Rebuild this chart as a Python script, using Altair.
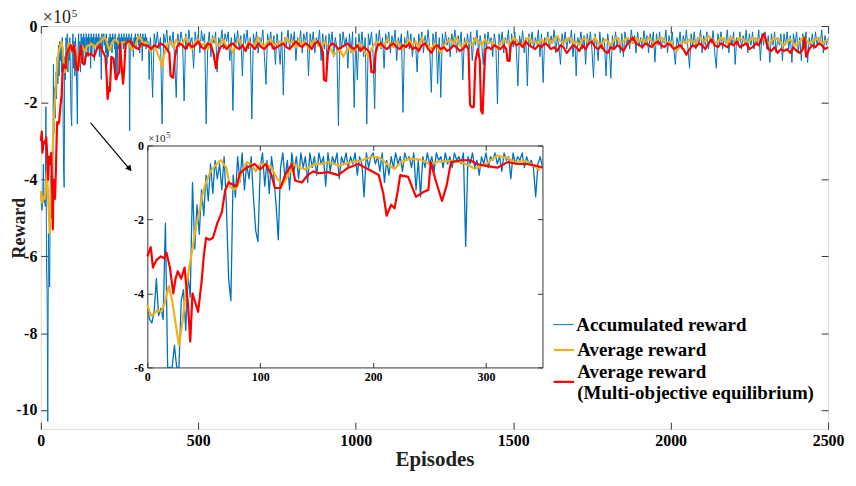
import altair as alt
import pandas as pd

# ---------------- data (values in units of 10^5) ----------------
S_BLUE = "Accumulated reward"
S_ORANGE = "Average reward"
S_RED = "Average reward\n(Multi-objective equilibrium)"
C_BLUE, C_ORANGE, C_RED = "#0072BD", "#EDB120", "#FF0000"

# accumulated reward, episodes 0..350 every 2 episodes
blue_early_ep = list(range(0, 351, 2))
blue_early_val = [
    -4.3, -4.7, -4.8, -4.5, -3.6, -4.6, -4.4, -4.7, -2.1, -6.3,
    -7.0, -10.3, -5.4, -6.2, -6.8, -4.2, -3.9, -5.0, -3.5, -4.1,
    -1.0, -2.8, -1.6, -2.4, -1.2, -1.9, -0.8, -1.5, -0.5, -1.3,
    -0.4, -0.9, -0.5, -1.2, -0.3, -1.6, -3.6, -4.2, -0.8, -1.4,
    -0.3, -1.0, -0.2, -1.2, -0.5, -0.9, -0.3, -1.4, -2.3, -2.6,
    -0.6, -0.2, -1.1, -0.4, -1.3, -0.3, -0.8, -1.6, -2.55, -0.6,
    -0.2, -0.9, -0.4, -1.2, -0.2, -0.7, -0.3, -0.9, -0.2, -0.6,
    -0.3, -1.0, -0.2, -0.6, -0.3, -0.8, -0.2, -0.5, -0.3, -1.1,
    -0.2, -0.7, -0.3, -0.5, -0.2, -0.9, -0.3, -0.5, -0.2, -0.6,
    -0.3, -0.5, -0.2, -0.8, -0.3, -0.5, -1.39, -0.2, -0.6, -0.3,
    -0.2, -0.5, -0.3, -0.7, -0.2, -1.0, -0.4, -0.8, -0.3, -0.6,
    -0.2, -0.5, -0.3, -0.7, -0.2, -0.4, -0.3, -0.6, -0.2, -1.2,
    -0.4, -1.39, -0.3, -0.6, -0.2, -0.5, -0.3, -0.7, -0.2, -0.4,
    -0.3, -0.6, -0.2, -0.5, -0.3, -0.6, -0.2, -0.4, -0.3, -0.5,
    -0.2, -2.73, -0.3, -0.5, -0.2, -0.6, -0.4, -0.8, -0.3, -0.5,
    -0.2, -0.6, -0.3, -0.4, -0.2, -0.5, -0.3, -0.7, -0.2, -0.4,
    -0.3, -0.9, -0.2, -0.5, -0.3, -0.4, -0.2, -0.6, -0.3, -0.5,
    -0.4, -0.6, -1.39, -0.5, -0.3, -0.6,
]

# accumulated reward, episodes 355..2500 every 5 episodes
blue_late_ep = list(range(355, 2501, 5))
blue_late_val = [
    -1.86, -0.2, -0.5, -0.15, -0.6, -0.3, -2.55, -0.2, -0.45, -0.1, -0.7, -0.25, -0.5, -0.15, -0.9, -1.86, -0.2, -0.55, -0.15, -0.4,
    -1.95, -0.2, -0.6, -0.1, -0.45, -0.3, -1.1, -0.15, -0.5, -0.2, -0.7, -0.12, -0.4, -0.2, -2.55, -0.5, -0.15, -0.8, -0.25, -0.45,
    -0.15, -1.2, -0.3, -0.5, -0.1, -0.6, -0.2, -0.4, -0.15, -0.9, -0.3, -2.2, -0.2, -0.5, -0.12, -0.6, -0.25, -1.3, -0.2, -0.45,
    -0.1, -0.6, -0.3, -2.42, -0.2, -0.5, -0.15, -0.7, -0.3, -0.45, -0.1, -0.8, -1.52, -0.2, -0.5, -0.15, -0.6, -0.25, -1.0, -0.2,
    -0.5, -1.0, -0.15, -1.8, -0.3, -0.5, -0.1, -0.6, -0.2, -0.45, -0.15, -0.9, -0.3, -0.5, -0.12, -0.7, -0.2, -0.4, -0.15, -1.3,
    -0.2, -0.5, -0.15, -0.7, -0.3, -0.45, -0.1, -0.9, -0.2, -0.6, -0.25, -1.15, -0.2, -0.5, -0.15, -0.8, -0.3, -0.55, -2.6, -0.2,
    -0.6, -0.15, -0.5, -0.3, -1.1, -0.2, -0.7, -0.15, -2.12, -0.3, -1.4, -0.2, -0.6, -0.15, -0.8, -0.3, -2.55, -0.2, -0.5, -0.15,
    -0.7, -2.16, -0.2, -0.5, -0.1, -0.6, -0.3, -1.1, -0.2, -0.45, -0.15, -0.7, -0.25, -0.5, -0.1, -0.9, -0.3, -0.5, -0.2, -2.25,
    -0.3, -0.55, -0.12, -0.6, -0.2, -0.8, -0.3, -0.45, -1.2, -0.2, -0.5, -0.15, -0.7, -0.25, -0.5, -0.1, -0.6, -1.73, -0.2, -0.5,
    -0.15, -1.5, -0.3, -1.86, -0.2, -0.6, -0.15, -0.5, -0.3, -0.8, -0.2, -0.45, -0.1, -0.7, -0.25, -0.5, -0.15, -1.4, -0.3, -0.55,
    -0.2, -0.6, -0.15, -0.9, -0.3, -0.5, -0.1, -0.7, -0.25, -0.5, -1.0, -0.2, -0.6, -0.15, -0.45, -0.3, -0.8, -0.2, -0.5, -2.03,
    -0.2, -0.5, -0.15, -0.7, -0.3, -0.45, -0.1, -0.9, -0.2, -0.55, -0.15, -0.6, -1.56, -0.25, -0.5, -0.12, -0.7, -0.3, -1.56, -0.2,
    -0.5, -0.15, -0.6, -0.3, -0.45, -0.1, -0.8, -0.2, -1.47, -0.3, -0.5, -0.15, -0.6, -0.25, -0.45, -0.1, -0.7, -0.3, -0.5, -1.0,
    -0.2, -0.5, -0.15, -0.6, -0.3, -0.45, -0.1, -0.8, -0.2, -1.3, -0.3, -0.5, -0.15, -0.6, -0.25, -1.0, -0.2, -0.5, -0.15, -0.6,
    -1.34, -0.2, -0.5, -0.9, -0.15, -0.6, -0.3, -0.45, -1.3, -0.2, -0.5, -1.36, -0.25, -0.6, -0.15, -0.5, -0.3, -0.7, -0.2, -0.8,
    -0.15, -0.5, -0.3, -0.6, -0.1, -0.45, -0.25, -0.7, -0.15, -0.5, -0.3, -0.6, -0.12, -0.45, -0.25, -0.7, -0.2, -0.5, -0.15, -0.94,
    -0.2, -0.5, -0.15, -0.6, -0.3, -0.45, -0.1, -0.7, -0.25, -0.5, -0.15, -0.6, -1.0, -0.3, -0.5, -0.15, -0.6, -0.25, -0.45, -0.1,
    -0.6, -1.1, -0.2, -0.5, -0.15, -0.6, -0.3, -0.45, -0.1, -0.7, -0.25, -0.5, -0.15, -0.6, -0.3, -0.45, -0.12, -0.7, -1.1, -0.2,
    -0.5, -0.15, -0.6, -0.3, -0.45, -0.1, -0.7, -0.25, -0.5, -0.15, -1.0, -0.3, -0.5, -0.15, -0.6, -0.25, -0.45, -0.1, -0.7, -0.2,
    -0.5, -0.15, -0.6, -0.3, -0.45, -0.1, -0.9, -0.2, -0.5, -0.15, -0.6, -0.25, -0.95, -0.2, -0.5, -0.15, -0.7, -0.3, -0.5, -0.2,
    -0.9, -0.2, -0.5, -0.15, -0.6, -0.25, -0.95, -0.2, -0.5, -0.15, -0.7, -0.3, -0.9, -0.2, -0.5, -0.15, -0.95, -0.3, -0.5, -0.2,
    -0.6, -0.15, -0.5, -0.3, -0.45, -0.1, -0.7, -0.25, -0.5, -0.3,
]

# average reward (episode, value)
orange_pts = [
    (0, -4.3), (3, -4.6), (6, -4.55), (9, -4.45), (12, -4.5), (15, -4.3), (19, -3.8), (22, -4.2),
    (25, -4.8), (28, -5.4), (31, -4.8), (34, -4.0), (37, -3.3), (40, -2.8), (43, -2.2), (46, -1.8),
    (49, -1.3), (52, -1.0), (56, -0.7), (60, -0.55), (65, -0.4), (70, -0.6), (73, -1.1), (77, -1.2),
    (80, -1.1), (84, -0.7), (88, -0.45), (92, -0.5), (96, -0.7), (100, -0.5), (105, -0.5), (110, -0.6),
    (115, -0.9), (120, -1.05), (125, -0.8), (130, -0.5), (135, -0.6), (140, -0.65), (145, -0.55),
    (150, -0.5), (155, -0.5), (160, -0.45), (165, -0.5), (170, -0.55), (180, -0.45), (190, -0.4),
    (200, -0.3), (207, -0.35), (212, -0.5), (219, -0.63), (225, -0.45), (232, -0.36), (242, -0.38),
    (250, -0.5), (258, -0.43), (268, -0.42), (278, -0.45), (285, -0.55), (290, -0.63), (300, -0.5),
    (310, -0.27), (320, -0.35), (325, -0.45), (335, -0.42), (342, -0.55), (348, -0.67),
    (360, -0.5), (370, -0.7), (380, -0.9), (385, -1.08), (390, -0.8), (400, -0.5), (410, -0.4),
    (420, -0.55), (430, -0.35), (440, -0.5), (450, -0.45), (460, -0.3), (470, -0.5), (480, -0.6),
    (490, -0.4), (500, -0.35), (510, -0.5), (520, -0.45), (530, -0.6), (540, -0.4), (550, -0.3),
    (560, -0.5), (570, -0.45), (580, -0.35), (590, -0.55), (600, -0.5), (610, -0.7), (620, -0.45),
    (630, -0.35), (640, -0.5), (650, -0.6), (660, -0.4), (670, -0.55), (680, -0.45), (690, -0.3),
    (700, -0.45), (710, -0.55), (720, -0.4), (730, -0.35), (740, -0.5), (750, -0.45), (760, -0.4),
    (770, -0.5), (780, -0.3), (790, -0.45), (800, -0.4), (810, -0.55), (820, -0.35), (830, -0.5),
    (840, -0.4), (850, -0.6), (860, -0.45), (870, -0.35), (880, -0.5), (890, -0.55), (900, -0.4),
    (910, -0.5), (920, -0.6), (930, -0.75), (940, -0.7), (950, -0.6), (960, -0.8), (970, -0.65),
    (980, -0.55), (990, -0.7), (1000, -0.6), (1010, -0.45), (1020, -0.55), (1030, -0.7), (1040, -0.8),
    (1050, -0.6), (1060, -0.45), (1070, -0.4), (1080, -0.55), (1090, -0.5), (1100, -0.35),
    (1110, -0.45), (1120, -0.55), (1130, -0.4), (1140, -0.5), (1150, -0.6), (1160, -0.45),
    (1170, -0.35), (1180, -0.5), (1190, -0.4), (1200, -0.55), (1210, -0.3), (1220, -0.45),
    (1230, -0.5), (1240, -0.6), (1250, -0.45), (1260, -0.55), (1270, -0.7), (1280, -0.5),
    (1290, -0.4), (1300, -0.35), (1310, -0.45), (1320, -0.3), (1330, -0.5), (1340, -0.55),
    (1350, -0.4), (1360, -0.45), (1370, -0.5), (1380, -0.3), (1390, -0.4), (1400, -0.5),
    (1410, -0.35), (1420, -0.45), (1430, -0.4), (1440, -0.5), (1450, -0.6), (1460, -0.45),
    (1470, -0.35), (1480, -0.4), (1490, -0.5), (1500, -0.3), (1510, -0.35), (1520, -0.5),
    (1530, -0.45), (1540, -0.35), (1550, -0.3), (1560, -0.45), (1570, -0.4), (1580, -0.5),
    (1590, -0.35), (1600, -0.45), (1610, -0.3), (1620, -0.45), (1630, -0.35), (1640, -0.25),
    (1650, -0.4), (1660, -0.45), (1670, -0.35), (1680, -0.3), (1690, -0.45), (1700, -0.4),
    (1710, -0.5), (1720, -0.35), (1730, -0.3), (1740, -0.45), (1750, -0.4), (1760, -0.3),
    (1770, -0.45), (1780, -0.5), (1790, -0.35), (1800, -0.4), (1810, -0.5), (1820, -0.35),
    (1830, -0.3), (1840, -0.45), (1850, -0.4), (1860, -0.3), (1870, -0.35), (1880, -0.45),
    (1890, -0.3), (1900, -0.4), (1910, -0.35), (1920, -0.45), (1930, -0.3), (1940, -0.4),
    (1950, -0.5), (1960, -0.35), (1970, -0.3), (1980, -0.4), (1990, -0.45), (2000, -0.4),
    (2010, -0.55), (2020, -0.65), (2030, -0.5), (2040, -0.4), (2050, -0.45), (2060, -0.35),
    (2070, -0.4), (2080, -0.45), (2090, -0.3), (2100, -0.35), (2110, -0.4), (2120, -0.25),
    (2130, -0.35), (2140, -0.45), (2150, -0.4), (2160, -0.3), (2170, -0.35), (2180, -0.45),
    (2190, -0.3), (2200, -0.35), (2210, -0.4), (2220, -0.3), (2230, -0.35), (2240, -0.45),
    (2250, -0.4), (2260, -0.3), (2270, -0.35), (2280, -0.4), (2290, -0.3), (2300, -0.35),
    (2310, -0.45), (2320, -0.4), (2330, -0.3), (2340, -0.35), (2350, -0.45), (2360, -0.5),
    (2370, -0.4), (2380, -0.35), (2390, -0.45), (2400, -0.5), (2410, -0.4), (2420, -0.3),
    (2430, -0.35), (2440, -0.45), (2450, -0.4), (2460, -0.35), (2470, -0.3), (2480, -0.45),
    (2490, -0.4), (2500, -0.35),
]

# average reward, multi-objective equilibrium (episode, value)
red_pts = [
    (0, -3.0), (3, -2.75), (5, -3.3), (8, -3.1), (12, -3.0), (15, -3.05), (17, -2.9), (20, -3.3),
    (23, -4.0), (25, -3.6), (27, -3.4), (30, -3.6), (33, -3.3), (36, -4.3), (38, -5.3), (40, -4.0),
    (43, -4.3), (45, -4.5), (48, -3.7), (50, -3.0), (52, -2.5), (55, -2.55), (58, -2.5), (62, -2.1),
    (66, -1.8), (69, -1.2), (72, -1.0), (75, -1.05), (79, -1.1), (82, -0.75), (88, -0.6), (95, -0.5),
    (100, -0.65), (105, -0.5), (110, -0.8), (113, -1.15), (118, -1.15), (122, -0.8), (128, -0.5),
    (131, -0.95), (137, -1.0), (142, -0.8), (147, -0.7), (152, -0.75), (160, -0.72), (169, -0.8),
    (178, -0.6), (187, -0.5), (196, -0.65), (205, -0.8), (209, -1.3), (212, -1.9), (216, -1.6),
    (219, -1.7), (222, -1.2), (224, -0.8), (231, -0.85), (238, -1.39), (245, -1.25), (249, -1.2),
    (251, -0.45), (255, -0.9), (261, -1.5), (265, -1.1), (269, -0.45), (278, -0.4), (286, -0.4),
    (292, -0.5), (300, -0.55), (310, -0.6), (319, -0.45), (328, -0.5), (336, -0.5), (345, -0.55),
    (350, -0.6),
    (360, -0.5), (370, -0.55), (380, -0.45), (390, -0.5), (400, -0.6), (408, -0.7), (412, -1.3),
    (420, -1.35), (426, -0.8), (432, -0.55), (440, -0.45), (450, -0.5), (460, -0.6), (470, -0.45),
    (480, -0.55), (490, -0.5), (500, -0.4), (510, -0.55), (520, -0.6), (530, -0.45), (540, -0.5),
    (548, -0.7), (556, -1.1), (562, -0.75), (570, -0.55), (580, -0.5), (590, -0.6), (600, -0.5),
    (610, -0.45), (620, -0.55), (630, -0.6), (640, -0.5), (650, -0.65), (660, -0.45), (670, -0.5),
    (680, -0.6), (690, -0.45), (700, -0.55), (710, -0.6), (720, -0.5), (730, -0.45), (740, -0.6),
    (750, -0.55), (760, -0.5), (770, -0.45), (780, -0.55), (790, -0.6), (800, -0.5), (810, -0.4),
    (820, -0.5), (830, -0.55), (840, -0.45), (850, -0.5), (860, -0.6), (870, -0.45), (880, -0.4),
    (890, -0.55), (896, -0.7), (899, -1.4), (906, -1.43), (910, -0.8), (915, -0.55), (925, -0.45),
    (935, -0.5), (945, -0.6), (955, -0.55), (965, -0.5), (975, -0.45), (985, -0.55), (995, -0.6),
    (1005, -0.5), (1015, -0.65), (1025, -0.55), (1035, -0.6), (1045, -0.7), (1050, -1.2),
    (1058, -1.21), (1063, -0.7), (1070, -0.5), (1080, -0.45), (1090, -0.55), (1100, -0.6),
    (1110, -0.5), (1120, -0.45), (1130, -0.55), (1140, -0.6), (1150, -0.5), (1160, -0.55),
    (1170, -0.45), (1180, -0.6), (1190, -0.55), (1200, -0.65), (1210, -0.5), (1220, -0.45),
    (1230, -0.6), (1240, -0.7), (1250, -0.55), (1260, -0.5), (1270, -0.6), (1280, -0.55),
    (1290, -0.65), (1300, -0.6), (1310, -0.5), (1320, -0.55), (1330, -0.65), (1340, -0.6),
    (1350, -0.5), (1358, -0.6), (1363, -2.05), (1370, -2.12), (1375, -2.1), (1380, -0.9),
    (1388, -0.6), (1394, -0.9), (1398, -2.2), (1403, -2.28), (1408, -1.2), (1412, -0.6),
    (1420, -0.55), (1430, -0.6), (1440, -0.5), (1450, -0.55), (1460, -0.6), (1470, -0.5),
    (1478, -0.6), (1482, -0.9), (1488, -0.91), (1492, -0.5), (1500, -0.4), (1510, -0.5),
    (1520, -0.45), (1530, -0.55), (1540, -0.4), (1550, -0.5), (1560, -0.55), (1570, -0.6),
    (1580, -0.5), (1590, -0.55), (1600, -0.45), (1610, -0.5), (1620, -0.6), (1630, -0.55),
    (1640, -0.65), (1650, -0.5), (1660, -0.55), (1670, -0.7), (1680, -0.6), (1690, -0.5),
    (1700, -0.55), (1710, -0.65), (1720, -0.5), (1730, -0.6), (1740, -0.45), (1750, -0.4),
    (1760, -0.55), (1770, -0.6), (1780, -0.5), (1790, -0.65), (1800, -0.7), (1810, -0.55),
    (1820, -0.6), (1830, -0.5), (1840, -0.55), (1850, -0.65), (1860, -0.5), (1870, -0.4),
    (1880, -0.3), (1890, -0.45), (1900, -0.5), (1910, -0.55), (1920, -0.45), (1930, -0.5),
    (1940, -0.55), (1950, -0.45), (1960, -0.4), (1970, -0.5), (1980, -0.55), (1990, -0.45),
    (2000, -0.5), (2010, -0.6), (2020, -0.55), (2030, -0.5), (2040, -0.6), (2050, -0.75),
    (2060, -0.6), (2070, -0.5), (2080, -0.55), (2090, -0.45), (2100, -0.5), (2110, -0.6),
    (2120, -0.45), (2130, -0.35), (2140, -0.5), (2150, -0.55), (2160, -0.45), (2170, -0.5),
    (2180, -0.55), (2190, -0.45), (2200, -0.5), (2210, -0.4), (2220, -0.55), (2230, -0.5),
    (2240, -0.45), (2250, -0.6), (2260, -0.55), (2270, -0.45), (2280, -0.5), (2290, -0.3),
    (2296, -0.2), (2302, -0.35), (2310, -0.6), (2320, -0.65), (2330, -0.55), (2340, -0.7),
    (2350, -0.6), (2360, -0.65), (2370, -0.6), (2380, -0.7), (2390, -0.55), (2400, -0.65),
    (2410, -0.7), (2420, -0.6), (2425, -0.3), (2430, -0.8), (2440, -0.6), (2450, -0.5),
    (2460, -0.55), (2470, -0.45), (2480, -0.5), (2490, -0.6), (2500, -0.55),
]

main_x_ticks = [0, 500, 1000, 1500, 2000, 2500]
main_y_ticks = [0, -2, -4, -6, -8, -10]
inset_x_ticks = [0, 100, 200, 300]
inset_y_ticks = [0, -2, -4, -6]
exponent_texts = ["\u00d710", "5"]

arrow_from = (158, -2.52)
arrow_to = (285, -3.76)
arrow_head = (282, -3.72)

# ---------------- frames ----------------
blue_df = pd.DataFrame({"ep": blue_early_ep + blue_late_ep,
                        "val": blue_early_val + blue_late_val,
                        "series": S_BLUE})
orange_df = pd.DataFrame(orange_pts, columns=["ep", "val"]).assign(series=S_ORANGE)
red_df = pd.DataFrame(red_pts, columns=["ep", "val"]).assign(series=S_RED)

# ---------------- geometry ----------------
W, H = 791, 405
IX0, IX1 = 107, 504      # inset x range (px, within plot)
IY0, IY1 = 343, 120      # inset y range (px) for -6 .. 0
FONT = "Times New Roman, Liberation Serif, Tinos, DejaVu Serif, serif"
FRAME = "#333333"
LEG_X = 514

main_x = alt.Scale(domain=[0, 2500], nice=False, zero=False)
main_y = alt.Scale(domain=[-10.5, 0], nice=False, zero=False)
inset_x = alt.Scale(domain=[0, 350], range=[IX0, IX1], nice=False, zero=False)
inset_y = alt.Scale(domain=[-6, 0], range=[IY0, IY1], nice=False, zero=False, clamp=True)

LBL = "'' + datum.value"


def color_enc(series, color, legend_y=None, sw=2.0, baseline="middle"):
    if legend_y is None:
        legend = None
    else:
        legend = alt.Legend(
            title=None, orient="none", legendX=LEG_X, legendY=legend_y,
            symbolType="stroke", symbolSize=420, symbolStrokeWidth=sw,
            labelFont=FONT, labelFontSize=19, labelFontWeight="bold", labelColor="black",
            labelLimit=500, labelOffset=2, padding=0, labelBaseline=baseline,
            labelExpr="split(datum.label, '\\n')",
        )
    return alt.Color("series:N", scale=alt.Scale(domain=[series], range=[color]), legend=legend)


def tick_axis(orient, offset, values, size=7, domain=False):
    return alt.Axis(orient=orient, offset=offset, values=values, labels=False,
                    ticks=True, tickSize=size, tickColor=FRAME, tickWidth=1,
                    domain=domain, domainColor=FRAME, domainWidth=1,
                    grid=False, title=None)


def line_layer(df, series, color, width, xscale, yscale, xaxis, yaxis,
               inset=False, legend_y=None, baseline="middle"):
    base = alt.Chart(df)
    if inset:
        base = base.transform_filter(alt.datum.ep <= 350)
    return base.mark_line(strokeWidth=width, strokeJoin="round").encode(
        x=alt.X("ep:Q", scale=xscale, axis=xaxis),
        y=alt.Y("val:Q", scale=yscale, axis=yaxis),
        color=color_enc(series, color, legend_y, 1.0 if series == S_BLUE else 2.2, baseline),
        order="ep:Q",
    )


# main axes
main_xlab = alt.Axis(orient="bottom", values=main_x_ticks, labelExpr=LBL, labelFont=FONT,
                     labelFontSize=16, labelFontWeight="bold", labelColor="black",
                     labelPadding=3, labelFlush=False, labelOverlap=False, ticks=False,
                     tickSize=0, domain=False, grid=False, title="Episodes", titleFont=FONT,
                     titleFontSize=21, titleFontWeight="bold", titleColor="#222222",
                     titlePadding=1)
main_ylab = alt.Axis(orient="left", values=main_y_ticks, labelExpr=LBL, labelFont=FONT,
                     labelFontSize=16, labelFontWeight="bold", labelColor="black",
                     labelPadding=4, labelFlush=False, labelOverlap=False, ticks=False,
                     tickSize=0, domain=False, grid=False, title="Reward", titleFont=FONT,
                     titleFontSize=18, titleFontWeight="bold", titleColor="#222222",
                     titleAngle=-90, titleBaseline="bottom", titleAlign="center",
                     titleX=-12, titleY=H / 2)

inset_xlab = alt.Axis(orient="bottom", offset=IY0 - H, values=inset_x_ticks, labelExpr=LBL,
                      labelFont=FONT, labelFontSize=12, labelFontWeight="bold",
                      labelColor="black", labelPadding=4, labelFlush=False,
                      labelOverlap=False, ticks=False, tickSize=0, domain=True,
                      domainColor=FRAME, domainWidth=1, grid=False, title=None)
inset_ylab = alt.Axis(orient="left", offset=-IX0, values=inset_y_ticks, labelExpr=LBL,
                      labelFont=FONT, labelFontSize=12, labelFontWeight="bold",
                      labelColor="black", labelPadding=4, labelFlush=False,
                      labelOverlap=False, ticks=False, tickSize=0, domain=True,
                      domainColor=FRAME, domainWidth=1, grid=False, title=None)

layers = [
    # main plot
    line_layer(blue_df, S_BLUE, C_BLUE, 1.0, main_x, main_y, main_xlab, main_ylab,
               legend_y=289),
    line_layer(orange_df, S_ORANGE, C_ORANGE, 2.2, main_x, main_y,
               tick_axis("bottom", -H, main_x_ticks), tick_axis("left", -W, main_y_ticks),
               legend_y=314),
    line_layer(red_df, S_RED, C_RED, 2.2, main_x, main_y,
               tick_axis("top", -H, main_x_ticks), tick_axis("right", -W, main_y_ticks),
               legend_y=346, baseline="bottom"),
    # inset
    line_layer(blue_df, S_BLUE, C_BLUE, 1.3, inset_x, inset_y, inset_xlab, inset_ylab,
               inset=True),
    line_layer(orange_df, S_ORANGE, C_ORANGE, 2.2, inset_x, inset_y,
               tick_axis("bottom", IY1 - H, inset_x_ticks, 5, True),
               tick_axis("left", -IX1, inset_y_ticks, 5, True), inset=True),
    line_layer(red_df, S_RED, C_RED, 2.2, inset_x, inset_y,
               tick_axis("top", -IY0, inset_x_ticks, 5),
               tick_axis("right", IX0 - W, inset_y_ticks, 5), inset=True),
]

# arrow pointing to the inset
arrow_df = pd.DataFrame({"x": [arrow_from[0]], "y": [arrow_from[1]],
                         "x2": [arrow_to[0]], "y2": [arrow_to[1]]})
layers.append(
    alt.Chart(arrow_df).mark_rule(color="black", strokeWidth=1.2).encode(
        x=alt.X("x:Q", scale=main_x, axis=None), y=alt.Y("y:Q", scale=main_y, axis=None),
        x2="x2:Q", y2="y2:Q")
)
head_df = pd.DataFrame({"x": [arrow_head[0]], "y": [arrow_head[1]]})
layers.append(
    alt.Chart(head_df).mark_point(shape="triangle-up", filled=True, color="black",
                                  size=45, angle=140, opacity=1).encode(
        x=alt.X("x:Q", scale=main_x, axis=None), y=alt.Y("y:Q", scale=main_y, axis=None))
)

# exponent labels (x10^5) for the main plot and the inset
exp_df = pd.DataFrame({"t": exponent_texts})


def exp_text(t, size, x, y):
    return alt.Chart(exp_df).transform_filter(alt.datum.t == t).mark_text(
        align="left", baseline="alphabetic", font=FONT, fontSize=size,
        color="#222222").encode(x=alt.value(x), y=alt.value(y), text="t:N")


layers += [
    exp_text(exponent_texts[0], 18, 2, -3),
    exp_text(exponent_texts[1], 11, 31, -9),
    exp_text(exponent_texts[0], 11, IX0 + 1, IY1 - 3),
    exp_text(exponent_texts[1], 8, IX0 + 19, IY1 - 8),
]

chart = alt.layer(*layers).resolve_scale(
    x="independent", y="independent", color="independent"
).resolve_axis(x="independent", y="independent").resolve_legend(
    color="independent"
).properties(
    width=W, height=H,
    autosize=alt.AutoSizeParams(type="none"),
    padding={"left": 33, "top": 17, "right": 20, "bottom": 56},
).configure_view(stroke=FRAME, strokeWidth=1).configure(background="white")

chart.save("out.html", embed_options={"renderer": "svg", "actions": False})
